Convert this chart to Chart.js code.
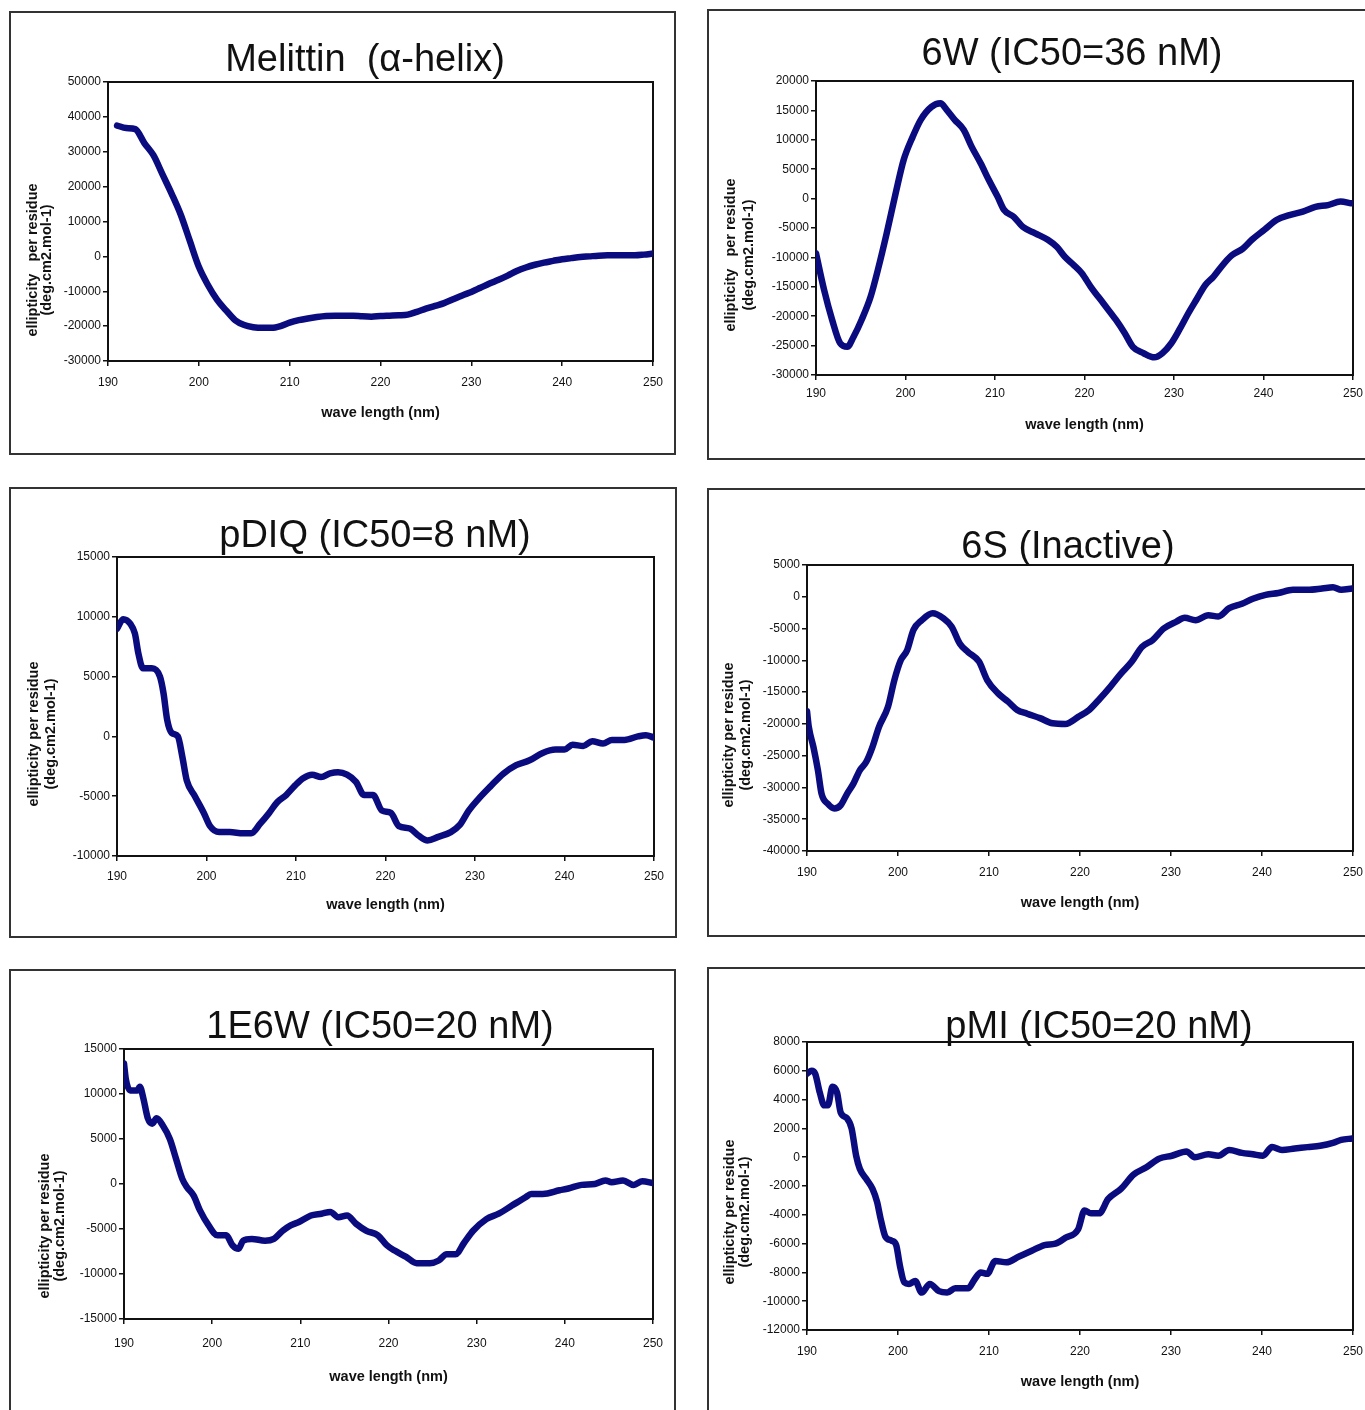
<!DOCTYPE html>
<html>
<head>
<meta charset="utf-8">
<script src="https://cdn.jsdelivr.net/npm/chart.js@4.4.0/dist/chart.umd.min.js"></script>
<style>
  body { margin: 0; background: #fff; width: 1365px; height: 1410px; overflow: hidden; position: relative; }
  canvas { position: absolute; }
  .box { position: absolute; border: 2px solid #333; box-sizing: border-box; pointer-events: none; }
</style>
</head>
<body>
<canvas id="c1"></canvas>
<canvas id="c2"></canvas>
<canvas id="c3"></canvas>
<canvas id="c4"></canvas>
<canvas id="c5"></canvas>
<canvas id="c6"></canvas>
<script>
// wavelengths (nm) and ellipticity values
const melittinWl = [191,192,193,194,195,196,197,198,199,200,201,202,203,204,205,206,207,208,209,210,
  211,212,213,214,215,216,217,218,219,220,221,222,223,224,225,226,227,228,229,230,
  231,232,233,234,235,236,237,238,239,240,241,242,243,244,245,246,247,248,249,250];
const melittinVals = [37500,36800,36500,32500,29000,23500,18000,12000,4500,-3000,
  -8200,-12400,-15500,-18300,-19700,-20300,-20500,-20500,-20000,-19000,
  -18300,-17800,-17400,-17100,-17000,-17000,-17000,-17200,-17300,-17100,
  -17000,-16900,-16700,-15900,-15000,-14200,-13400,-12300,-11200,-10200,
  -9000,-7800,-6700,-5500,-4200,-3200,-2400,-1800,-1300,-800,
  -500,-200,0,200,300,300,300,300,500,800];

const w6Wl = [190,190.9,191.8,192.7,193.5,194.2,195.1,196.1,197,197.9,198.9,199.8,200.8,201.7,202.9,203.9,204.6,205.5,206.5,207.4,
  208.4,209.3,210.3,211,212.1,213.1,214.5,215.9,216.9,217.8,218.8,219.7,220.7,222.1,223.5,224.5,225.4,226.6,227.8,228.7,
  229.7,230.6,231.6,232.5,233.5,234.4,235.6,236.5,237.7,238.7,240.1,241.5,242.9,244.4,245.8,247.2,248.6,249.8];
const w6Vals = [-9300,-15500,-20600,-24600,-25200,-23500,-20600,-16700,-11600,-5900,900,6600,10500,13400,15600,16200,15100,13400,11700,8800,
  6000,3200,300,-1900,-3100,-4800,-5900,-7000,-8200,-9900,-11300,-12700,-15000,-17800,-20600,-22900,-25200,-26300,-27000,-26300,
  -24600,-22300,-19500,-17200,-14700,-13300,-11000,-9600,-8500,-7000,-5300,-3600,-2800,-2200,-1400,-1100,-500,-800];

const pdiqWl = [190,190.7,191.5,192,192.4,192.9,193.9,194.8,195.2,195.6,196.1,196.8,197.3,197.8,198.7,199.7,200.4,201.4,202.6,204.1,
  205,206,207,207.9,208.9,209.9,210.8,211.8,212.8,213.8,214.7,215.7,216.7,217.6,218.6,219.6,220.6,221.5,222.7,223.7,
  224.7,225.9,227.3,228.3,229.3,230.3,231.7,233.2,234.6,236.1,237.5,239,240,240.9,242.1,243.1,244.3,245.3,246.7,248.2,249.1,250];
const pdiqVals = [9000,9800,9400,8600,6900,5700,5700,5000,3600,1400,300,0,-1700,-3700,-5000,-6400,-7500,-8000,-8000,-8100,
  -8100,-7300,-6400,-5500,-4900,-4100,-3500,-3200,-3400,-3100,-3000,-3200,-3800,-4900,-4900,-6200,-6400,-7500,-7700,-8300,
  -8700,-8400,-8000,-7400,-6200,-5300,-4200,-3100,-2400,-2000,-1400,-1100,-1100,-700,-800,-400,-600,-300,-300,0,100,-100];

const s6Wl = [190,190.2,190.7,191.2,191.6,192.3,193,193.7,194.4,195.1,195.8,196.5,197.2,197.9,198.9,199.6,200.3,201,201.7,202.6,
  203.8,205,205.9,206.8,207.7,208.9,209.8,211,212.1,213.1,214.2,215.6,217,218.4,219.8,221,222.2,223.3,224.5,225.7,
  226.8,228,229.2,230.6,231.5,232.7,234.1,235.2,236.4,237.8,239,240.4,241.8,243.4,245,246.6,247.8,248.7,249.9];
const s6Vals = [-18000,-20500,-23600,-27300,-31000,-32600,-33300,-32800,-31000,-29400,-27300,-26000,-23600,-20500,-17300,-13100,-10000,-8400,-5200,-3700,
  -2600,-3400,-4700,-7400,-8700,-10200,-13100,-15200,-16500,-17800,-18400,-19100,-19900,-20000,-18900,-17800,-16000,-14200,-12100,-10200,
  -7900,-6800,-5000,-3900,-3300,-3700,-2900,-3100,-1800,-1100,-300,300,600,1100,1100,1300,1500,1100,1300];

const e6wWl = [190,190.2,190.7,191.5,191.8,192.2,192.7,193.2,193.7,194.4,195.2,195.9,196.6,197.1,197.9,198.6,199.6,200.6,201.6,202.3,
  203,203.5,204.5,206,207,208,208.9,209.9,211.2,212.4,213.4,214.3,215.3,216.3,217.5,218.8,219.8,220.7,222,223.2,
  224.7,225.7,226.6,227.6,228.6,229.6,231.1,232.5,234,235.5,236.2,237.5,239.4,240.4,241.9,243.4,244.6,245.3,246.6,247.8,248.8,250];
const e6wVals = [13400,11700,10400,10400,10800,9500,7300,6700,7300,6500,5000,2800,600,-300,-1300,-2900,-4600,-5700,-5700,-6800,
  -7200,-6300,-6100,-6300,-6100,-5200,-4600,-4200,-3500,-3300,-3100,-3700,-3500,-4400,-5200,-5700,-6800,-7400,-8100,-8800,
  -8800,-8500,-7800,-7800,-6500,-5200,-3900,-3300,-2400,-1500,-1100,-1100,-700,-500,-100,0,400,200,400,-100,300,100];

const pmiWl = [190,190.5,190.9,191.4,191.9,192.3,192.8,193.3,193.7,194.4,194.9,195.4,195.8,196.5,197.2,197.7,198.1,198.6,199.3,199.8,
  200.2,200.7,201.2,201.9,202.6,203.5,204.5,205.4,206.3,207.7,208.4,209.1,209.8,210.7,211.9,213.3,214.7,216.1,217.3,218.4,
  219.8,220.5,221.2,222.1,223.1,224.5,225.9,227.3,228.7,230.1,231.7,232.6,234.1,235.2,236.4,237.8,239,240.1,241.1,242.2,
  243.6,245,246.4,247.8,248.7,249.9];
const pmiVals = [5800,6000,5800,4500,3600,3600,4900,4500,3100,2700,2000,100,-800,-1500,-2200,-3100,-4300,-5500,-5800,-6100,
  -7500,-8700,-8800,-8600,-9400,-8800,-9300,-9400,-9100,-9100,-8500,-8000,-8100,-7200,-7300,-6900,-6500,-6100,-6000,-5600,
  -5000,-3700,-3900,-3900,-2900,-2200,-1200,-700,-100,100,400,0,200,100,500,300,200,100,700,500,
  600,700,800,1000,1200,1300];

const titles = ['Melittin  (\u03b1-helix)', '6W (IC50=36 nM)', 'pDIQ (IC50=8 nM)', '6S (Inactive)', '1E6W (IC50=20 nM)', 'pMI (IC50=20 nM)'];
const yLabelWide = ['ellipticity   per residue', '(deg.cm2.mol-1)'];
const yLabel = ['ellipticity per residue', '(deg.cm2.mol-1)'];
const xLabel = 'wave length (nm)';

const FONT = '"Liberation Sans", Arial, sans-serif';
const NAVY = '#0b0b80';

// page layout of each panel: box, plot area, title and axis-label spots
const panels = [
  { id: 'c1', wl: melittinWl, vals: melittinVals, title: titles[0], yText: yLabelWide, yMin: -30000, yMax: 50000, yStep: 10000,
    box: [9, 11, 676, 455], plot: [108, 82, 653, 361], tx: 365, ty: 71, yx: [33, 47], yc: 260, tickOff: 22, xTitleOff: 52 },
  { id: 'c2', wl: w6Wl, vals: w6Vals, title: titles[1], yText: yLabelWide, yMin: -30000, yMax: 20000, yStep: 5000,
    box: [707, 9, 1385, 460], plot: [816, 81, 1353, 375], tx: 1072, ty: 65, yx: [731, 749], yc: 255, tickOff: 19, xTitleOff: 50 },
  { id: 'c3', wl: pdiqWl, vals: pdiqVals, title: titles[2], yText: yLabel, yMin: -10000, yMax: 15000, yStep: 5000,
    box: [9, 487, 677, 938], plot: [117, 557, 654, 856], tx: 375, ty: 547, yx: [34, 51], yc: 734, tickOff: 21, xTitleOff: 49 },
  { id: 'c4', wl: s6Wl, vals: s6Vals, title: titles[3], yText: yLabel, yMin: -40000, yMax: 5000, yStep: 5000,
    box: [707, 488, 1385, 937], plot: [807, 565, 1353, 851], tx: 1068, ty: 558, yx: [729, 746], yc: 735, tickOff: 22, xTitleOff: 52 },
  { id: 'c5', wl: e6wWl, vals: e6wVals, title: titles[4], yText: yLabel, yMin: -15000, yMax: 15000, yStep: 5000,
    box: [9, 969, 676, 1425], plot: [124, 1049, 653, 1319], tx: 380, ty: 1038, yx: [45, 60], yc: 1226, tickOff: 25, xTitleOff: 58 },
  { id: 'c6', wl: pmiWl, vals: pmiVals, title: titles[5], yText: yLabel, yMin: -12000, yMax: 8000, yStep: 2000,
    box: [707, 967, 1385, 1425], plot: [807, 1042, 1353, 1330], tx: 1099, ty: 1038, yx: [730, 745], yc: 1212, tickOff: 22, xTitleOff: 52 }
];

const Y_WIDTH = 70;
const TICK_LEN = 5;
const X_TITLE_SIZE = 14.5;

const panelText = p => ({
  id: 'panelText',
  beforeDatasetsDraw(chart) {
    const { ctx, chartArea: a } = chart;
    ctx.save();
    ctx.strokeStyle = '#111';
    ctx.lineWidth = 2;
    ctx.strokeRect(a.left, a.top, a.right - a.left, a.bottom - a.top);
    ctx.restore();
  },
  afterDraw(chart) {
    const ctx = chart.ctx;
    const ox = p.box[0], oy = p.box[1];
    ctx.save();
    ctx.fillStyle = '#111';
    ctx.textAlign = 'center';
    ctx.textBaseline = 'alphabetic';
    ctx.font = '38px ' + FONT;
    ctx.fillText(p.title, p.tx - ox, p.ty - oy);
    ctx.font = 'bold 14.5px ' + FONT;
    ctx.textBaseline = 'middle';
    p.yText.forEach((line, i) => {
      ctx.save();
      ctx.translate(p.yx[i] - ox, p.yc - oy);
      ctx.rotate(-Math.PI / 2);
      ctx.fillText(line, 0, 0);
      ctx.restore();
    });
    ctx.restore();
  }
});

const drawPanel = p => {
  const canvas = document.getElementById(p.id);
  const w = p.box[2] - p.box[0];
  const h = p.box[3] - p.box[1];
  canvas.width = w;
  canvas.height = h;
  canvas.style.left = p.box[0] + 'px';
  canvas.style.top = p.box[1] + 'px';

  const frame = document.createElement('div');
  frame.className = 'box';
  frame.style.left = p.box[0] + 'px';
  frame.style.top = p.box[1] + 'px';
  frame.style.width = w + 'px';
  frame.style.height = h + 'px';
  document.body.appendChild(frame);

  const xH = p.xTitleOff + X_TITLE_SIZE * 1.2 / 2;

  new Chart(canvas, {
    type: 'line',
    data: {
      datasets: [{
        data: p.wl.map((x, i) => ({ x: x, y: p.vals[i] })),
        borderColor: NAVY,
        borderWidth: 6.5,
        borderJoinStyle: 'round',
        borderCapStyle: 'round',
        cubicInterpolationMode: 'monotone',
        pointRadius: 0,
        fill: false
      }]
    },
    options: {
      responsive: false,
      animation: false,
      events: [],
      layout: {
        padding: {
          left: p.plot[0] - p.box[0] - Y_WIDTH,
          top: p.plot[1] - p.box[1],
          right: p.box[2] - p.plot[2],
          bottom: p.box[3] - p.plot[3] - xH
        }
      },
      plugins: { legend: { display: false }, tooltip: { enabled: false } },
      scales: {
        x: {
          type: 'linear',
          min: 190,
          max: 250,
          afterFit: s => { s.height = xH; },
          border: { display: false },
          grid: { drawOnChartArea: false, drawTicks: true, tickLength: TICK_LEN, color: '#111', lineWidth: 1.5 },
          ticks: {
            stepSize: 10,
            color: '#111',
            padding: p.tickOff - TICK_LEN - 7.2,
            font: { family: FONT, size: 12 },
            maxRotation: 0
          },
          title: { display: true, text: xLabel, color: '#111', padding: 0, font: { family: FONT, size: X_TITLE_SIZE, weight: 'bold' } }
        },
        y: {
          min: p.yMin,
          max: p.yMax,
          afterFit: s => { s.width = Y_WIDTH; },
          border: { display: false },
          grid: { drawOnChartArea: false, drawTicks: true, tickLength: TICK_LEN, color: '#111', lineWidth: 1.5 },
          ticks: {
            stepSize: p.yStep,
            color: '#111',
            padding: 2,
            font: { family: FONT, size: 12 },
            callback: v => String(v)
          }
        }
      }
    },
    plugins: [panelText(p)]
  });
};

panels.forEach(drawPanel);
</script>
</body>
</html>
